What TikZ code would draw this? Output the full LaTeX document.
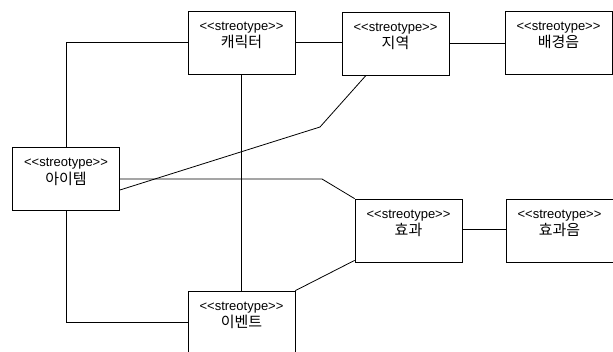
\documentclass[tikz,border=0pt]{standalone}
\usepackage{fontspec}
\setmainfont{Liberation Sans}
\newfontfamily\kofont{Noto Sans CJK KR}
\begin{document}
\begin{tikzpicture}[x=1pt,y=-1pt,
  umlbox/.style={draw,line width=0.8pt,minimum width=107pt,minimum height=63pt,inner sep=0pt},
  sttext/.style={anchor=base,inner sep=0pt,font=\fontsize{13}{15}\selectfont},
  nmtext/.style={anchor=base,inner sep=0pt,font=\kofont\fontsize{15}{17}\selectfont},
  conn/.style={line width=0.8pt}]
\useasboundingbox (0,0) rectangle (613,351);
\node[umlbox] (char) at (241.5,42.5) {};
\node[umlbox] (region) at (395.5,43.5) {};
\node[umlbox] (bgm) at (558.5,42.5) {};
\node[umlbox] (item) at (66,179) {};
\node[umlbox] (effect) at (408.5,230.5) {};
\node[umlbox] (sfx) at (559.5,230.5) {};
\node[umlbox] (event) at (241.5,322.5) {};
\foreach \b/\t in {char/캐릭터,region/지역,bgm/배경음,item/아이템,effect/효과,sfx/효과음,event/이벤트}{
  \node[sttext] (\b-st) at ([yshift=-19.5pt]\b.north) {{<}{<}streotype{>}{>}};
  \node[nmtext] (\b-nm) at ([yshift=-37pt]\b.north) {\t};
}
\coordinate (bend1) at (320,127);
\coordinate (bend2) at (322,179);
\draw[conn] (item.north) |- (char.west);
\draw[conn] (char.east) -- (char.east -| region.west);
\draw[conn] (region.east) -- (region.east -| bgm.west);
\draw[conn] (char.south) -- (event.north);
\draw[conn] ([xshift=-29.5pt]region.south) -- (bend1) -- ([yshift=-11pt]item.east);
\draw[conn] (item.east) -- (bend2) -- (effect.north west);
\draw[conn] ([yshift=2pt]effect.south west) -- (event.north east);
\draw[conn] (item.south) |- (event.west);
\draw[conn] ([yshift=1.5pt]effect.east) -- ([yshift=1.5pt]effect.east -| sfx.west);
\end{tikzpicture}
\end{document}
